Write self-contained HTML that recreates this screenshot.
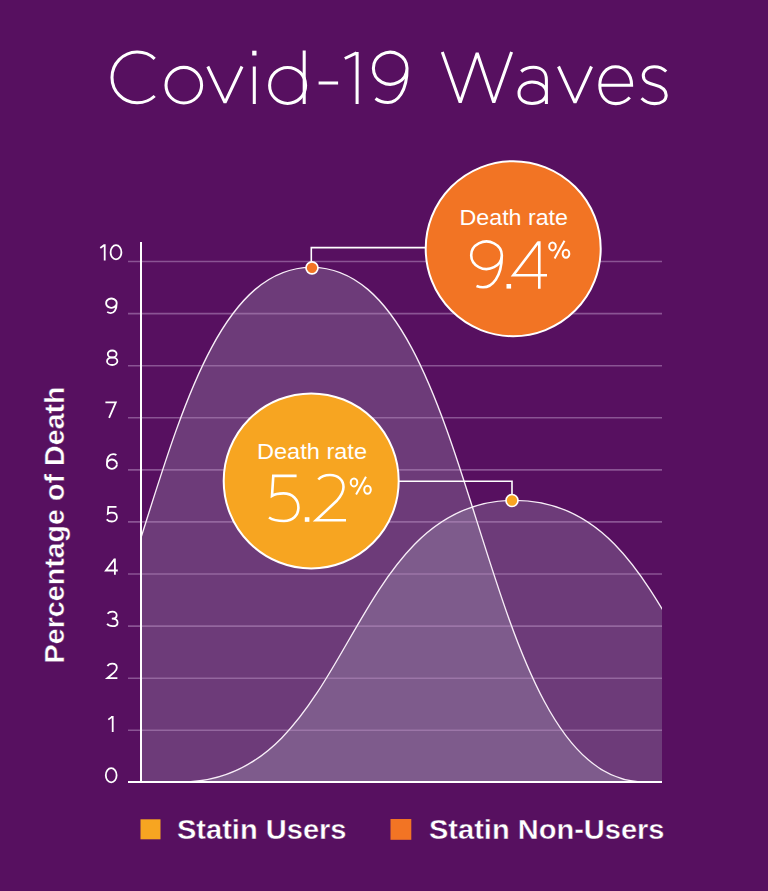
<!DOCTYPE html>
<html><head><meta charset="utf-8">
<style>
html,body{margin:0;padding:0;background:#571060;width:768px;height:891px;overflow:hidden}
svg{display:block}
text{font-family:"Liberation Sans",sans-serif}
</style></head>
<body>
<svg width="768" height="891" viewBox="0 0 768 891">
<defs>
<clipPath id="plot"><rect x="141" y="0" width="521" height="782"/></clipPath>
</defs>
<rect x="0" y="0" width="768" height="891" fill="#571060"/>

<!-- title -->
<g fill="none" stroke="#fff" stroke-width="3.05" stroke-linecap="butt" stroke-linejoin="miter" stroke-miterlimit="10">
<path d="M154.7,58.8 A25.4,25.4 0 1 0 154.7,96"/>
<circle cx="183.8" cy="85.2" r="17.8"/>
<path d="M207.8,66.5 L225,102.6 L242,66.5" stroke-linejoin="bevel"/>
<path d="M254.3,66.5 V104"/>
<circle cx="287.6" cy="85.4" r="18"/>
<path d="M304.2,50.5 V104"/>
<path d="M318.6,83 H338.1"/>
<path d="M357.1,52 V104 M356.6,52.8 L344.8,58.5"/>
<path d="M407,68 A16.8,16 0 1 0 407,68.5 M407,68 C407.3,92 397,102.5 388,102.5 C382.5,102.5 378.5,100.8 375.5,98.5"/>
<path d="M442.3,52 L460.2,102.6 L477.2,53 L493.8,102.6 L511.6,52" stroke-linejoin="bevel"/>
<path d="M521.2,71.5 C524.5,68.5 529,67.3 533.5,67.3 C541.5,67.3 546.4,72 546.4,80 V104 M546.4,93 C546.4,86.5 540,82 532,82 C524.5,82 519,86.8 519,93.3 C519,99.8 524.5,103.4 532,103.4 C540,103.4 546.4,99.5 546.4,93"/>
<path d="M558.5,66.5 L575,102.6 L591.5,66.5" stroke-linejoin="bevel"/>
<path d="M600.3,85.2 H631.6 C631.6,74 624.5,66.8 615.5,66.8 C606,66.8 599.8,75 599.8,85.2 C599.8,96 606.5,103.6 615.7,103.6 C621.5,103.6 626.5,101 629.8,97.5"/>
<path d="M666.2,71.5 C663,68.3 658.8,66.8 654.2,66.8 C647.8,66.8 643.3,70.5 643.3,75.8 C643.3,81.8 649,83.5 655,85 C661.5,86.6 666.2,89 666.2,95.2 C666.2,100.4 661.5,103.6 654.6,103.6 C649.3,103.6 644.8,101.6 641.6,98.3"/>
<rect x="252.2" y="50.7" width="4.3" height="4.8" fill="#fff" stroke="none"/>
</g>

<!-- fills -->
<g clip-path="url(#plot)">
<path d="M-21.8,782 C149.7,782 140.7,267.3 311.5,267.3 C482.4,267.3 473.4,782 644.8,782 Z" fill="#b4c3c8" fill-opacity="0.24"/>
<path d="M181.3,782 C352.7,782 343.8,500.3 514.6,500.3 C685.4,500.3 676.5,782 847.9,782 Z" fill="#b4c3c8" fill-opacity="0.24"/>
</g>

<!-- gridlines -->
<g stroke="#b48cc0" stroke-opacity="0.55" stroke-width="1.6">
<line x1="128" y1="261.5" x2="662" y2="261.5"/>
<line x1="128" y1="313.6" x2="662" y2="313.6"/>
<line x1="128" y1="365.7" x2="662" y2="365.7"/>
<line x1="128" y1="417.8" x2="662" y2="417.8"/>
<line x1="128" y1="469.9" x2="662" y2="469.9"/>
<line x1="128" y1="521.9" x2="662" y2="521.9"/>
<line x1="128" y1="574.0" x2="662" y2="574.0"/>
<line x1="128" y1="626.1" x2="662" y2="626.1"/>
<line x1="128" y1="678.2" x2="662" y2="678.2"/>
<line x1="128" y1="730.3" x2="662" y2="730.3"/>
</g>

<!-- curve strokes -->
<g clip-path="url(#plot)" fill="none" stroke="#f8eef8" stroke-width="1.35">
<path d="M-21.8,782 C149.7,782 140.7,267.3 311.5,267.3 C482.4,267.3 473.4,782 644.8,782"/>
<path d="M181.3,782 C352.7,782 343.8,500.3 514.6,500.3 C685.4,500.3 676.5,782 847.9,782"/>
</g>

<!-- axes -->
<line x1="141" y1="242" x2="141" y2="783" stroke="#fff" stroke-width="2"/>
<line x1="128" y1="782" x2="662" y2="782" stroke="#fff" stroke-width="2"/>

<!-- axis numbers -->
<g fill="none" stroke="#fff" stroke-width="1.8">
<g transform="translate(102.7,260.2)"><path d="M2,-15.9 V0.3 M1.6,-15.2 L-2.4,-12.2"/></g><g transform="translate(116,260.2)"><ellipse cx="0" cy="-8" rx="5.4" ry="7.1"/></g>
<g transform="translate(111.6,313.7)"><path d="M5.1,-10.6 A5.3,4.6 0 1 0 5.1,-10.5 M5.1,-10.6 C5.1,-3.5 2.2,-0.6 -0.8,-0.6 C-2.3,-0.6 -3.5,-1.1 -4.4,-1.8"/></g>
<g transform="translate(112.2,365.6)"><ellipse cx="0" cy="-11.5" rx="4.4" ry="3.6"/><ellipse cx="0" cy="-4.4" rx="5.2" ry="3.8"/></g>
<g transform="translate(110.8,417.6)"><path d="M-5.4,-15.2 H5 L-1.7,0.3"/></g>
<g transform="translate(111.9,469.3)"><path d="M4.5,-14.2 C3.5,-14.9 2.4,-15.1 1.2,-15.1 C-2.8,-15.1 -5,-11.5 -5,-6.5 M5,-5.2 A5,4.6 0 1 0 5,-5.1"/></g>
<g transform="translate(111.9,522.1)"><path d="M4.6,-15.2 H-3.6 L-4.1,-8.4 C-3,-9.1 -1.7,-9.4 -0.2,-9.4 C3,-9.4 5,-7.5 5,-4.9 C5,-2.2 2.9,-0.6 0,-0.6 C-2.2,-0.6 -4,-1.4 -5.2,-2.8"/></g>
<g transform="translate(111.5,574.4)"><path d="M3.4,-16 V0.3 M3,-15.3 L-5.6,-3.9 H6.3"/></g>
<g transform="translate(112.4,626.8)"><path d="M-4.8,-13 C-3.8,-14.4 -2,-15.1 0,-15.1 C2.6,-15.1 4.3,-13.6 4.3,-11.6 C4.3,-9.5 2.5,-8.2 -0.6,-8.2 C3,-8.2 5.2,-6.7 5.2,-4.4 C5.2,-2 3,-0.6 0,-0.6 C-2.3,-0.6 -4.2,-1.5 -5.3,-3"/></g>
<g transform="translate(112.2,678.8)"><path d="M-4.7,-12.6 C-3.8,-14.3 -2,-15.1 0,-15.1 C2.8,-15.1 4.6,-13.4 4.6,-11 C4.6,-9.2 3.7,-8 2.2,-6.6 L-4.9,-0.6 H5.2"/></g>
<g transform="translate(110.7,731.8)"><path d="M2,-15.9 V0.3 M1.6,-15.2 L-2.4,-12.2"/></g>
<g transform="translate(111.2,783.2)"><ellipse cx="0" cy="-8" rx="5.4" ry="7.1"/></g>
</g>

<!-- y label -->
<text transform="translate(63.8,663.4) rotate(-90)" font-size="27.8" font-weight="bold" fill="#fff" stroke="#571060" stroke-width="0.4" textLength="277" lengthAdjust="spacingAndGlyphs">Percentage of Death</text>

<!-- connectors -->
<polyline points="311.3,267.7 311.3,247.6 426,247.6" fill="none" stroke="#fff" stroke-width="1.6"/>
<polyline points="398,481.2 512,481.2 512,500.4" fill="none" stroke="#fff" stroke-width="1.6"/>

<!-- dots -->
<circle cx="312" cy="267.8" r="6" fill="#f27424" stroke="#fff" stroke-width="1.7"/>
<circle cx="512" cy="500.5" r="6" fill="#f7a521" stroke="#fff" stroke-width="1.7"/>

<!-- circles -->
<circle cx="513.2" cy="248.7" r="87.5" fill="#f27424" stroke="#fff" stroke-width="2"/>
<circle cx="311.2" cy="480.9" r="87.5" fill="#f7a521" stroke="#fff" stroke-width="2"/>

<!-- circle text -->
<text x="459.5" y="225" font-size="22.5" fill="#fff" textLength="108.5" lengthAdjust="spacingAndGlyphs">Death rate</text>
<g fill="none" stroke="#fff" stroke-width="2.6">
<path d="M501.8,255 A15.3,13.7 0 1 0 501.8,255.5 M501.8,255 C502,277 492,287.3 483,287.3 C480.5,287.3 478.5,286.8 476.5,286"/>
<path d="M539.3,241.3 V288.7 M538.5,242 L513.3,275.3 H547"/>
</g>
<rect x="506.5" y="284" width="4.6" height="4.6" fill="#fff"/>
<g fill="none" stroke="#fff" stroke-width="2">
<ellipse cx="552.5" cy="246.4" rx="3.3" ry="4"/>
<ellipse cx="566" cy="253.7" rx="3.3" ry="4"/>
<path d="M564.5,240.7 L554.6,258.4"/>
</g>

<text x="257" y="458.7" font-size="22.5" fill="#fff" textLength="110" lengthAdjust="spacingAndGlyphs">Death rate</text>
<g fill="none" stroke="#fff" stroke-width="2.6">
<path d="M296.6,475.9 H273.3 L272,495.8 C275,493.9 279.5,493.4 283.5,493.4 C292.5,493.4 298.4,499.5 298.4,507.5 C298.4,515.5 292.5,521 284,521 C278,521 272,519.5 269,517.5"/>
<path d="M318.3,479.5 C321,476.5 325,475 330,475 C338,475 343.5,480 343.5,487 C343.5,492 341,496 337,500.5 L316,520.3 H346"/>
</g>
<rect x="304.8" y="517.2" width="4.6" height="4.6" fill="#fff"/>
<g fill="none" stroke="#fff" stroke-width="2" transform="translate(-198.5,236)">
<ellipse cx="552.5" cy="246.4" rx="3.3" ry="4"/>
<ellipse cx="566" cy="253.7" rx="3.3" ry="4"/>
<path d="M564.5,240.7 L554.6,258.4"/>
</g>

<!-- legend -->
<rect x="140.5" y="819.3" width="20" height="20" fill="#f7a521"/>
<text x="177" y="838.5" font-size="27" font-weight="bold" fill="#fff" stroke="#571060" stroke-width="0.4" textLength="169.5" lengthAdjust="spacingAndGlyphs">Statin Users</text>
<rect x="390.5" y="819" width="20.8" height="20.8" fill="#f27424"/>
<text x="429" y="839" font-size="27" font-weight="bold" fill="#fff" stroke="#571060" stroke-width="0.4" textLength="235.5" lengthAdjust="spacingAndGlyphs">Statin Non-Users</text>
</svg>
</body></html>
